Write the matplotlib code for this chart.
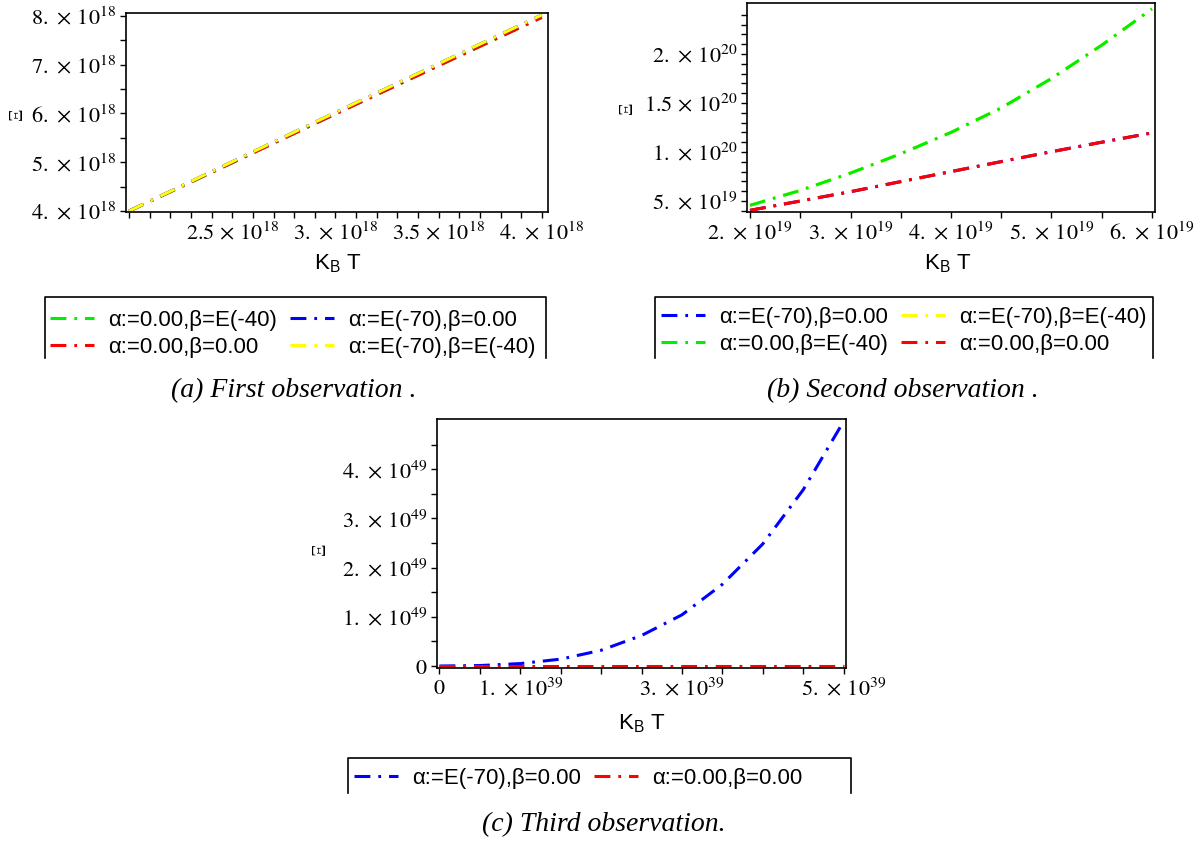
import matplotlib
matplotlib.use("Agg")
import matplotlib.pyplot as plt
from matplotlib.lines import Line2D

plt.rcParams['mathtext.fontset'] = 'stix'
plt.rcParams['font.family'] = ['Liberation Sans', 'DejaVu Sans']

# (a) first observation
kt_a = [2.0e18, 2.5e18, 3.0e18, 3.5e18, 4.0e18]
xi_a_green = [4.00e18, 4.99e18, 5.99e18, 6.98e18, 7.97e18]
xi_a_red = [4.00e18, 4.99e18, 5.99e18, 6.98e18, 7.97e18]
xi_a_blue = [4.00e18, 5.01e18, 6.02e18, 7.02e18, 8.02e18]
xi_a_yellow = [4.00e18, 5.01e18, 6.02e18, 7.02e18, 8.02e18]

# (b) second observation
kt_b = [2.0e19, 2.5e19, 3.0e19, 3.5e19, 4.0e19, 4.5e19, 5.0e19, 5.5e19, 6.0e19]
xi_b_blue = [4.05e19, 5.0e19, 5.95e19, 6.98e19, 8.0e19, 9.02e19, 10.03e19, 11.0e19, 11.95e19]
xi_b_yellow = [4.56e19, 6.08e19, 7.85e19, 9.82e19, 12.0e19, 14.5e19, 17.5e19, 20.9e19, 24.6e19]
xi_b_green = [4.56e19, 6.08e19, 7.85e19, 9.82e19, 12.0e19, 14.5e19, 17.5e19, 20.9e19, 24.6e19]
xi_b_red = [4.05e19, 5.0e19, 5.95e19, 6.98e19, 8.0e19, 9.02e19, 10.03e19, 11.0e19, 11.95e19]

# (c) third observation
kt_c = [0.0, 0.5e39, 1.0e39, 1.5e39, 2.0e39, 2.5e39, 3.0e39, 3.5e39, 4.0e39, 4.5e39, 5.0e39]
xi_c_blue = [0.0, 0.01e49, 0.05e49, 0.14e49, 0.32e49, 0.62e49, 1.04e49, 1.66e49, 2.48e49, 3.58e49, 4.97e49]
xi_c_red = [0.0, 0.0, 0.0, 0.0, 0.0, 0.0, 0.0, 0.0, 0.0, 0.0, 0.0]

lab_00 = "α:=0.00,β=0.00"
lab_0b = "α:=0.00,β=E(-40)"
lab_a0 = "α:=E(-70),β=0.00"
lab_ab = "α:=E(-70),β=E(-40)"

W, H = 1201, 843
fig = plt.figure(figsize=(W / 100, H / 100), dpi=100)
LW = 2.2
DASH = (5.2, 2.6, 0.9, 2.6)
GREEN, RED, BLUE, YELLOW = '#00ee00', '#ff0000', '#0000ff', '#ffff00'


def px_axes(left, top, right, bottom):
    return fig.add_axes([left / W, 1 - bottom / H, (right - left) / W, (bottom - top) / H])


def sci(m, e):
    return r"$%s\,\times\,10^{%d}$" % (m, e)


def style(ax):
    for s in ax.spines.values():
        s.set_linewidth(1.2)
    ax.tick_params(which='both', direction='out', length=4, width=1,
                   top=False, right=False, labelsize=16, pad=3)


def handle(c):
    return Line2D([], [], color=c, lw=LW, dashes=DASH)


def legend_frame(x0, x1, yt, yb):
    fig.add_artist(Line2D([x0 / W, x0 / W, x1 / W, x1 / W],
                          [1 - yb / H, 1 - yt / H, 1 - yt / H, 1 - yb / H],
                          transform=fig.transFigure, color='k', lw=1.2))


def legend(hs, ls, x, y):
    fig.legend(hs, ls, loc='upper left', bbox_to_anchor=(x / W, 1 - y / H), ncol=2,
               frameon=False, fontsize=16, handlelength=2.0, handletextpad=0.6,
               columnspacing=0.6, labelspacing=0.26, borderpad=0, borderaxespad=0)


# ---- panel (a)
ax = px_axes(126, 13, 548, 212)
ax.plot(kt_a, xi_a_green, color=GREEN, lw=LW, dashes=DASH)
ax.plot(kt_a, xi_a_red, color=RED, lw=LW, dashes=DASH)
ax.plot(kt_a, xi_a_blue, color=BLUE, lw=LW, dashes=DASH)
ax.plot(kt_a, xi_a_yellow, color=YELLOW, lw=LW, dashes=DASH)
ax.set_xlim(1.985e18, 4.03e18)
ax.set_ylim(3.98e18, 8.06e18)
ax.set_xticks([2.5e18, 3.0e18, 3.5e18, 4.0e18],
              [sci('2.5', 18), sci('3.', 18), sci('3.5', 18), sci('4.', 18)])
ax.set_xticks([2.0e18 + i * 0.1e18 for i in range(21)], minor=True)
ax.set_yticks([4e18, 5e18, 6e18, 7e18, 8e18],
              [sci('4.', 18), sci('5.', 18), sci('6.', 18), sci('7.', 18), sci('8.', 18)])
ax.set_yticks([4.5e18, 5.5e18, 6.5e18, 7.5e18], minor=True)
style(ax)

# ---- panel (b)
ax = px_axes(747, 3, 1155, 212)
ax.plot(kt_b, xi_b_blue, color=BLUE, lw=LW, dashes=DASH)
ax.plot(kt_b, xi_b_yellow, color=YELLOW, lw=LW, dashes=DASH)
ax.plot(kt_b, xi_b_green, color=GREEN, lw=LW, dashes=DASH)
ax.plot(kt_b, xi_b_red, color=RED, lw=LW, dashes=DASH)
ax.set_xlim(1.97e19, 6.03e19)
ax.set_ylim(3.88e19, 2.52e20)
ax.set_xticks([2e19, 3e19, 4e19, 5e19, 6e19],
              [sci('2.', 19), sci('3.', 19), sci('4.', 19), sci('5.', 19), sci('6.', 19)])
ax.set_xticks([2.5e19, 3.5e19, 4.5e19, 5.5e19], minor=True)
ax.set_yticks([5e19, 1e20, 1.5e20, 2e20],
              [sci('5.', 19), sci('1.', 20), sci('1.5', 20), sci('2.', 20)])
ax.set_yticks([i * 1e19 for i in range(4, 25)], minor=True)
style(ax)

# ---- panel (c)
ax = px_axes(437, 419, 846, 668)
ax.plot(kt_c, xi_c_blue, color=BLUE, lw=LW, dashes=DASH)
ax.plot(kt_c, xi_c_red, color=RED, lw=LW, dashes=DASH)
ax.set_xlim(-0.03e39, 5.03e39)
ax.set_ylim(-0.04e49, 5.02e49)
ax.set_xticks([0, 1e39, 2e39, 3e39, 4e39, 5e39],
              ['$0$', sci('1.', 39), '', sci('3.', 39), '', sci('5.', 39)])
ax.set_xticks([0.5e39, 1.5e39, 2.5e39, 3.5e39, 4.5e39], minor=True)
ax.set_yticks([0, 1e49, 2e49, 3e49, 4e49],
              ['$0$', sci('1.', 49), sci('2.', 49), sci('3.', 49), sci('4.', 49)])
ax.set_yticks([0.5e49, 1.5e49, 2.5e49, 3.5e49, 4.5e49], minor=True)
style(ax)

# ---- axis titles
for x, y in [(17, 114), (627, 108), (320, 549)]:
    fig.text(x / W, 1 - y / H, "Ξ", rotation=90, ha='center', va='center',
             fontsize=14, family=['Liberation Serif', 'DejaVu Serif'])
for x, y in [(338, 263), (948, 263), (642, 723)]:
    fig.text(x / W, 1 - y / H, r"K$_{\mathregular{B}}$ T", ha='center', va='center', fontsize=16)

# ---- legends
legend([handle(GREEN), handle(RED), handle(BLUE), handle(YELLOW)],
       [lab_0b, lab_00, lab_a0, lab_ab], 50, 310)
legend_frame(45, 546, 297, 358)
legend([handle(BLUE), handle(GREEN), handle(YELLOW), handle(RED)],
       [lab_a0, lab_0b, lab_ab, lab_00], 661, 307)
legend_frame(655, 1153, 297, 358)
legend([handle(BLUE), handle(RED)], [lab_a0, lab_00], 354, 768)
legend_frame(348, 851, 758, 793)

# ---- captions
for x, y, t in [(294, 391, "(a) First observation ."),
                (903, 391, "(b) Second observation ."),
                (604, 825, "(c) Third observation.")]:
    fig.text(x / W, 1 - y / H, t, ha='center', va='center', fontsize=20,
             family='Liberation Serif', style='italic')

fig.savefig("out.png", dpi=100)
